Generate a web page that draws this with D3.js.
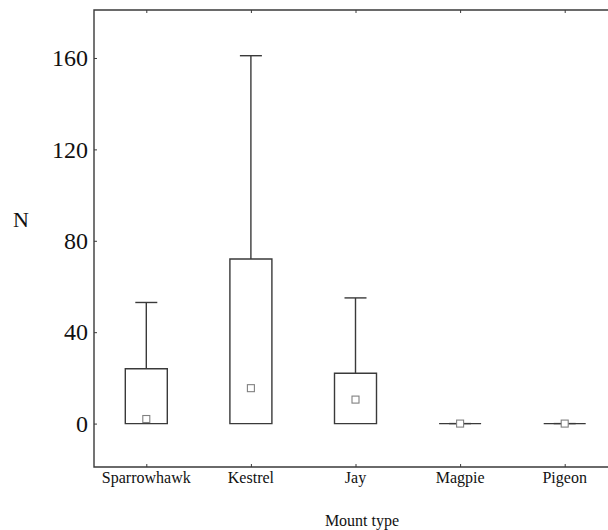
<!DOCTYPE html>
<html>
<head>
<meta charset="utf-8">
<script src="https://cdn.jsdelivr.net/npm/d3@7"></script>
<style>
  body { margin: 0; background: #fff; }
  text { font-family: "Liberation Serif", "Times New Roman", serif; fill: #111; }
</style>
</head>
<body>
<div id="chart"></div>
<script>
// Chart data
var categories = ["Sparrowhawk", "Kestrel", "Jay", "Magpie", "Pigeon"];
var boxLow     = [0, 0, 0, 0, 0];
var boxHigh    = [24, 72, 22, 0, 0];
var whiskerTop = [53, 161, 55, 0, 0];
var medians    = [2, 15.5, 10.5, 0, 0];
var yTicks     = [0, 40, 80, 120, 160];

var width = 608, height = 530;
var plotLeft = 94, plotTop = 10, plotRight = 617, plotBottom = 467;

var svg = d3.select("#chart")
  .append("svg")
    .attr("width", width)
    .attr("height", height);

var x = d3.scalePoint()
  .domain(categories)
  .range([plotLeft, plotRight])
  .padding(0.5);

var y = d3.scaleLinear()
  .domain([-19, 181])
  .range([plotBottom, plotTop]);

var stroke = "#3a3a3a";

// frame (left, top, bottom)
svg.append("path")
  .attr("d", "M" + plotRight + "," + plotTop + "H" + plotLeft + "V" + plotBottom + "H" + plotRight)
  .attr("fill", "none")
  .attr("stroke", stroke)
  .attr("stroke-width", 1.4);

// left axis, ticks point inward
var yAxis = svg.append("g")
  .attr("transform", "translate(" + plotLeft + ",0)")
  .call(d3.axisRight(y).tickValues(yTicks).tickSize(3).tickFormat(""));
yAxis.select(".domain").remove();
yAxis.selectAll("line").attr("stroke", stroke);

svg.selectAll(".ylab")
  .data(yTicks)
  .enter()
  .append("text")
    .attr("class", "ylab")
    .attr("x", plotLeft - 6)
    .attr("y", function(d) { return y(d); })
    .attr("dy", "0.34em")
    .attr("text-anchor", "end")
    .style("font-size", "24px")
    .text(function(d) { return d; });

// bottom and top ticks at categories, inward
var xb = svg.append("g")
  .attr("transform", "translate(0," + plotBottom + ")")
  .call(d3.axisTop(x).tickSize(3).tickFormat(""));
xb.select(".domain").remove();
xb.selectAll("line").attr("stroke", stroke);

var xt = svg.append("g")
  .attr("transform", "translate(0," + plotTop + ")")
  .call(d3.axisBottom(x).tickSize(3).tickFormat(""));
xt.select(".domain").remove();
xt.selectAll("line").attr("stroke", stroke);

svg.selectAll(".xlab")
  .data(categories)
  .enter()
  .append("text")
    .attr("class", "xlab")
    .attr("x", function(d) { return x(d); })
    .attr("y", 483)
    .attr("text-anchor", "middle")
    .style("font-size", "16px")
    .text(function(d) { return d; });

// boxes
var boxW = 42, capW = 22;
var g = svg.selectAll(".box")
  .data(categories)
  .enter()
  .append("g")
    .attr("class", "box");

g.append("line")
  .attr("x1", function(d) { return x(d); })
  .attr("x2", function(d) { return x(d); })
  .attr("y1", function(d, i) { return y(boxHigh[i]); })
  .attr("y2", function(d, i) { return y(whiskerTop[i]); })
  .attr("stroke", stroke)
  .attr("stroke-width", 1.4);

g.append("line")
  .attr("x1", function(d) { return x(d) - capW / 2; })
  .attr("x2", function(d) { return x(d) + capW / 2; })
  .attr("y1", function(d, i) { return y(whiskerTop[i]); })
  .attr("y2", function(d, i) { return y(whiskerTop[i]); })
  .attr("stroke", stroke)
  .attr("stroke-width", 1.4);

// box drawn as a path so that a flat box still shows as a line
g.append("path")
  .attr("d", function(d, i) {
    var x0 = x(d) - boxW / 2, x1 = x(d) + boxW / 2;
    var y0 = y(boxLow[i]), y1 = y(boxHigh[i]);
    return "M" + x0 + "," + y0 + "H" + x1 + "V" + y1 + "H" + x0 + "Z";
  })
  .attr("fill", "none")
  .attr("stroke", stroke)
  .attr("stroke-width", 1.4);

g.append("rect")
  .attr("x", function(d) { return x(d) - 3.5; })
  .attr("y", function(d, i) { return y(medians[i]) - 3.5; })
  .attr("width", 7)
  .attr("height", 7)
  .attr("fill", "#fff")
  .attr("stroke", "#808080")
  .attr("stroke-width", 1.1);

// axis titles
svg.append("text")
  .attr("x", 21)
  .attr("y", 227)
  .attr("text-anchor", "middle")
  .style("font-size", "22px")
  .text("N");

svg.append("text")
  .attr("x", 362)
  .attr("y", 526)
  .attr("text-anchor", "middle")
  .style("font-size", "16px")
  .text("Mount type");
</script>
</body>
</html>
